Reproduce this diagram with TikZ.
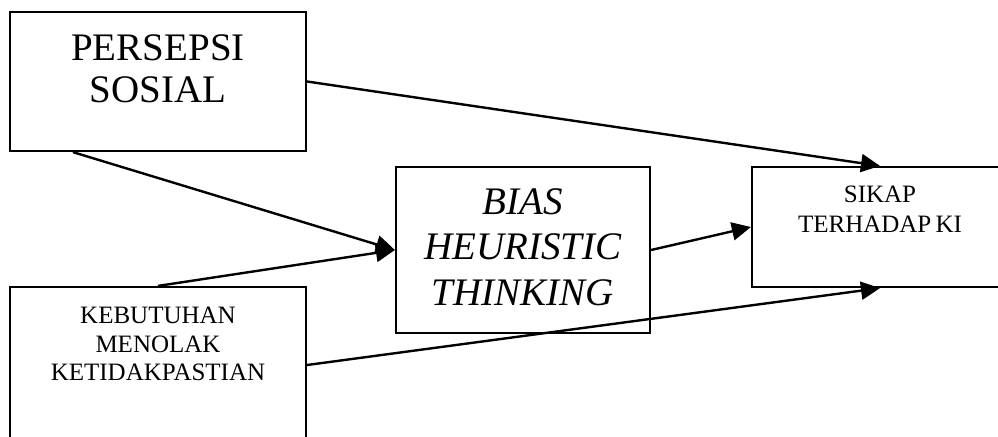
\documentclass[tikz,border=0pt]{standalone}
\usepackage{fontspec}
\setmainfont{Liberation Serif}
\usetikzlibrary{arrows.meta}

\begin{document}
\begin{tikzpicture}[x=0.5pt, y=-0.5pt]
    \tikzstyle{block} = [draw, rectangle, line width=1.1pt, inner sep=0pt];
    \tikzstyle{big} = [font=\fontsize{19.5}{21}\selectfont];
    \tikzstyle{small} = [font=\fontsize{12.5}{14.25}\selectfont];
    \tikzstyle{title} = [anchor=north, align=center, inner sep=0pt];
    \tikzstyle{line} = [draw, line width=1.2pt, -{Triangle[length=9.5pt, width=9pt]}];
    \useasboundingbox (0,0) rectangle (998,436);
    \clip (0,0) rectangle (998,436);
    \node[block, minimum width=148pt, minimum height=69.5pt,
        label={[title, big, yshift=-11.5pt]north:{PERSEPSI\\SOSIAL}}] (persepsi) at (158,81.5) {};
    \node[block, minimum width=148pt, minimum height=78pt,
        label={[title, small, yshift=-10.5pt]north:{KEBUTUHAN\\MENOLAK\\KETIDAKPASTIAN}}] (kebutuhan) at (158,365) {};
    \node[block, minimum width=127pt, minimum height=83pt,
        label={[title, big, font=\fontsize{19.5}{22.75}\selectfont\itshape, yshift=-11pt]north:{BIAS\\HEURISTIC\\THINKING}}] (bias) at (523,250) {};
    \node[block, minimum width=128pt, minimum height=60pt,
        label={[title, small, font=\fontsize{12.5}{15}\selectfont, yshift=-10pt]north:{SIKAP\\TERHADAP\,KI}}] (sikap) at (880,227) {};
    \tikzstyle{every path}=[line]
    \path (persepsi.east) -- (sikap.north);
    \path ([xshift=32pt]persepsi.south west) -- (bias.west);
    \path (kebutuhan.north) -- (bias.west);
    \path (bias.east) -- (sikap.west);
    \path (kebutuhan.east) -- (sikap.south);
\end{tikzpicture}
\end{document}
